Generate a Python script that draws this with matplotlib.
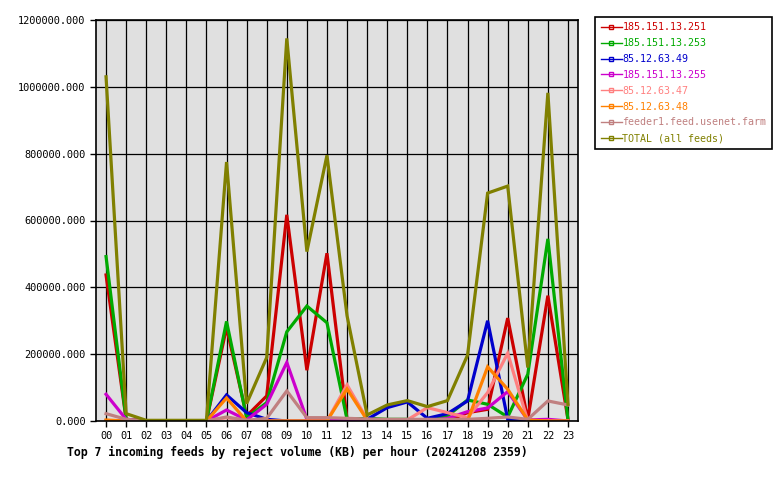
import matplotlib
matplotlib.use("Agg")
import matplotlib.pyplot as plt
from matplotlib.lines import Line2D
from matplotlib.ticker import FormatStrFormatter

# hourly reject volume (KB) per feed
hours = list(range(24))
hour_labels = ["%02d" % h for h in hours]

feed_names = ["185.151.13.251", "185.151.13.253", "85.12.63.49", "185.151.13.255",
              "85.12.63.47", "85.12.63.48", "feeder1.feed.usenet.farm", "TOTAL (all feeds)"]
feed_colors = ["#cc0000", "#00aa00", "#0000cc", "#cc00cc",
               "#ff8080", "#ff8000", "#c08080", "#808000"]

feed_251 = [437000, 5000, 0, 0, 0, 0, 280000, 15000, 75000, 617000, 152000, 502000,
            5000, 0, 0, 0, 0, 0, 25000, 35000, 308000, 5000, 375000, 5000]
feed_253 = [492000, 5000, 0, 0, 0, 0, 298000, 10000, 55000, 267000, 344000, 294000,
            5000, 8000, 5000, 5000, 0, 15000, 63000, 50000, 12000, 140000, 545000, 3000]
feed_49 = [0, 0, 0, 0, 0, 0, 78000, 25000, 5000, 0, 0, 0,
           0, 5000, 40000, 57000, 8000, 22000, 60000, 300000, 5000, 0, 0, 0]
feed_255 = [80000, 5000, 0, 0, 0, 0, 33000, 3000, 50000, 175000, 5000, 2000,
            0, 0, 0, 0, 0, 8000, 28000, 39000, 88000, 3000, 5000, 0]
feed_47 = [0, 0, 0, 0, 0, 0, 10000, 0, 0, 0, 0, 0,
           108000, 5000, 0, 3000, 40000, 25000, 10000, 85000, 203000, 0, 0, 0]
feed_48 = [3000, 0, 0, 0, 0, 0, 69000, 0, 0, 0, 0, 0,
           96000, 3000, 0, 0, 0, 0, 0, 162000, 95000, 3000, 0, 0]
feed_farm = [22000, 5000, 0, 0, 0, 0, 12000, 2000, 8000, 90000, 10000, 10000,
             8000, 6000, 5000, 5000, 5000, 5000, 5000, 8000, 12000, 5000, 60000, 48000]
feed_total = [1030000, 22000, 2000, 2000, 2000, 2000, 775000, 52000, 190000, 1145000, 507000, 795000,
              315000, 18000, 48000, 61000, 43000, 61000, 197000, 682000, 703000, 160000, 982000, 50000]

series = [feed_251, feed_253, feed_49, feed_255, feed_47, feed_48, feed_farm, feed_total]

plt.rcParams['font.family'] = ['DejaVu Sans Mono']

fig = plt.figure(figsize=(7.8, 4.8), dpi=100)
ax = fig.add_axes([96 / 780, 1 - 421 / 480, 482 / 780, 401 / 480])
ax.set_facecolor("#e0e0e0")

for vals, col in zip(series, feed_colors):
    ax.plot(hours, vals, color=col, lw=2.3, solid_joinstyle='miter')

ax.set_xlim(-0.5, 23.5)
ax.set_ylim(0, 1200000)
ax.set_xticks(hours)
ax.set_xticklabels(hour_labels)
ax.set_yticks(range(0, 1200001, 200000))
ax.yaxis.set_major_formatter(FormatStrFormatter('%.3f'))
ax.tick_params(labelsize=7.4, length=4, width=1, colors='black')
ax.grid(True, color='black', lw=0.9, ls='-')
ax.set_axisbelow(True)
for sp in ax.spines.values():
    sp.set_linewidth(1.2)

fig.text(67 / 780, 1 - 452 / 480, "Top 7 incoming feeds by reject volume (KB) per hour (20241208 2359)",
         fontsize=8.3, fontweight='bold', va='center', ha='left')

handles = [Line2D([], [], color=c, lw=1, marker='s', markersize=3, mfc='none', mew=1)
           for c in feed_colors]
leg = fig.legend(handles, feed_names, loc='upper left',
                 bbox_to_anchor=(595 / 780, 1 - 17 / 480), borderaxespad=0,
                 fontsize=7.2, labelcolor=feed_colors, fancybox=False, framealpha=1,
                 edgecolor='black', handlelength=2.1, handletextpad=0.1,
                 labelspacing=0.58, borderpad=0.55)
leg.get_frame().set_linewidth(1.2)

fig.savefig("out.png", dpi=100, facecolor='white')
